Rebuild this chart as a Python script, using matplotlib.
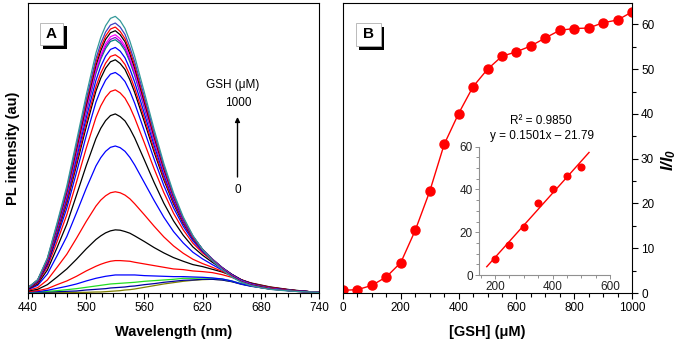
import matplotlib
matplotlib.use("Agg")
import matplotlib.pyplot as plt
from matplotlib.patches import Rectangle
from matplotlib.ticker import MultipleLocator

plt.rcParams['font.family'] = ['Liberation Sans', 'DejaVu Sans']
plt.rcParams['mathtext.fontset'] = 'custom'
plt.rcParams['mathtext.it'] = 'Liberation Sans:italic:bold'
plt.rcParams['mathtext.rm'] = 'Liberation Sans:italic:bold'

# ---------------- Panel A data: PL spectra (one per GSH concentration) ----------------
wavelength = [440, 450, 460, 470, 480, 490, 500, 510, 515, 520, 525, 530, 535, 540, 545, 550,
              560, 570, 580, 590, 600, 610, 620, 630, 640, 650, 660, 670, 680, 690, 700,
              710, 720, 730, 740]

spec_0 = [1, 1, 1, 1, 1, 2, 2, 3, 3, 4, 5, 6, 7, 9, 10, 12,
          17, 22, 27, 31, 35, 38, 40, 41, 39, 34, 27, 21, 16, 12, 10, 7, 5, 3, 1]
spec_50 = [2, 2, 3, 4, 5, 6, 9, 11, 12, 13, 15, 16, 17, 18, 20, 21,
           25, 28, 32, 35, 38, 39, 41, 41, 39, 34, 26, 20, 16, 12, 10, 7, 5, 3, 1]
spec_100 = [2, 3, 5, 7, 10, 13, 17, 21, 23, 25, 27, 28, 29, 30, 31, 32,
            35, 37, 39, 41, 44, 44, 45, 44, 42, 36, 28, 22, 17, 13, 10, 7, 5, 3, 1]
spec_150 = [3, 4, 8, 14, 20, 27, 36, 44, 47, 50, 52, 54, 54, 54, 54, 54,
            52, 51, 50, 49, 49, 48, 47, 45, 42, 36, 27, 21, 17, 13, 10, 7, 5, 3, 1]
spec_200 = [4, 7, 13, 25, 36, 50, 66, 80, 86, 91, 95, 97, 97, 96, 95, 92,
            87, 82, 77, 72, 70, 66, 64, 61, 55, 47, 36, 28, 22, 17, 13, 9, 6, 4, 1]
spec_250 = [6, 11, 25, 48, 72, 101, 132, 160, 171, 180, 186, 189, 188, 184, 179, 171,
            154, 136, 120, 106, 95, 85, 79, 71, 63, 52, 39, 30, 24, 18, 14, 10, 7, 4, 2]
spec_300 = [8, 16, 39, 77, 116, 164, 214, 260, 278, 291, 300, 303, 300, 293, 282, 267,
            234, 200, 168, 141, 119, 101, 88, 77, 65, 52, 38, 29, 23, 17, 13, 9, 6, 4, 2]
spec_350 = [10, 23, 57, 112, 169, 240, 313, 380, 405, 424, 436, 440, 435, 424, 406, 383,
            330, 277, 227, 184, 150, 122, 102, 85, 69, 53, 38, 28, 22, 16, 12, 9, 6, 4, 2]
spec_400 = [12, 27, 69, 136, 206, 293, 381, 462, 493, 516, 531, 536, 528, 515, 492, 464,
            398, 331, 269, 216, 173, 138, 113, 92, 73, 55, 39, 29, 22, 16, 12, 9, 6, 4, 2]
spec_450 = [13, 30, 78, 154, 234, 332, 433, 525, 560, 586, 603, 608, 599, 583, 557, 524,
            449, 372, 301, 239, 189, 149, 120, 97, 75, 56, 40, 29, 22, 16, 12, 9, 6, 4, 2]
spec_500 = [14, 33, 84, 167, 254, 361, 470, 571, 608, 637, 655, 660, 650, 633, 604, 568,
            485, 401, 322, 255, 200, 156, 124, 99, 75, 56, 39, 28, 21, 15, 11, 8, 6, 4, 2]
spec_550 = [14, 34, 89, 177, 269, 382, 497, 604, 643, 673, 692, 698, 687, 669, 638, 600,
            512, 422, 339, 267, 208, 162, 128, 101, 77, 56, 39, 28, 21, 15, 11, 8, 6, 4, 2]
spec_600 = [15, 35, 91, 181, 275, 391, 509, 617, 658, 688, 708, 713, 703, 684, 652, 613,
            523, 430, 345, 271, 211, 164, 128, 101, 76, 55, 38, 27, 21, 15, 11, 8, 5, 4, 2]
spec_650 = [15, 36, 94, 186, 284, 403, 524, 636, 678, 709, 729, 735, 724, 704, 671, 631,
            537, 442, 354, 277, 215, 166, 130, 101, 76, 55, 38, 27, 20, 14, 11, 8, 5, 4, 2]
spec_700 = [15, 37, 97, 192, 293, 416, 541, 657, 700, 732, 753, 758, 747, 726, 692, 651,
            554, 455, 363, 284, 220, 169, 131, 102, 76, 54, 37, 26, 20, 14, 10, 8, 5, 4, 2]
spec_750 = [15, 37, 97, 194, 295, 420, 546, 663, 706, 739, 759, 765, 753, 733, 698, 656,
            558, 458, 365, 285, 220, 169, 130, 101, 75, 53, 36, 26, 19, 13, 10, 7, 5, 4, 2]
spec_800 = [15, 38, 98, 196, 298, 424, 552, 669, 713, 746, 767, 773, 761, 740, 705, 662,
            563, 461, 367, 286, 220, 168, 129, 100, 73, 52, 35, 25, 18, 13, 9, 7, 5, 3, 2]
spec_850 = [16, 38, 100, 199, 303, 431, 561, 681, 725, 759, 779, 785, 773, 752, 716, 673,
            571, 468, 372, 289, 222, 169, 129, 99, 72, 51, 34, 24, 18, 12, 9, 7, 5, 3, 2]
spec_900 = [16, 39, 101, 202, 307, 437, 569, 690, 735, 769, 790, 796, 783, 761, 725, 681,
            578, 473, 376, 291, 223, 169, 129, 98, 71, 50, 33, 23, 17, 12, 9, 7, 4, 3, 2]
spec_950 = [15, 39, 103, 205, 312, 445, 578, 701, 747, 781, 802, 808, 796, 774, 736, 692,
            587, 480, 381, 294, 224, 170, 129, 97, 71, 49, 33, 23, 16, 11, 9, 6, 4, 3, 2]
spec_1000 = [16, 40, 105, 210, 320, 455, 592, 718, 765, 800, 822, 828, 815, 792, 754, 708,
             600, 490, 388, 300, 228, 172, 130, 98, 70, 48, 32, 22, 16, 11, 8, 6, 4, 3, 2]

spectra = [spec_0, spec_50, spec_100, spec_150, spec_200, spec_250, spec_300, spec_350,
           spec_400, spec_450, spec_500, spec_550, spec_600, spec_650, spec_700, spec_750,
           spec_800, spec_850, spec_900, spec_950, spec_1000]
spec_colors = ['#808000', '#0000A0', '#22DD22', '#0000FF', '#FF0000', '#000000', '#FF0000',
               '#0000FF', '#000000', '#FF0000', '#0000FF', '#000000', '#FF0000', '#0000FF',
               '#008080', '#9400D3', '#FF00FF', '#000000', '#FF0000', '#4040C0', '#339999']

# ---------------- Panel B data ----------------
gsh = [0, 50, 100, 150, 200, 250, 300, 350, 400, 450, 500, 550, 600, 650, 700, 750, 800,
       850, 900, 950, 1000]
ratio = [0.6, 0.75, 1.7, 3.6, 6.8, 14.0, 22.7, 33.2, 40.1, 46.1, 50.0, 52.9, 53.9, 55.2,
         57.0, 58.7, 59.1, 59.2, 60.4, 61.0, 62.8]
inset_gsh = [200, 250, 300, 350, 400, 450, 500]
inset_ratio = [7.3, 14.0, 22.6, 33.5, 40.2, 46.3, 50.3]
fit_x = [171, 527]
fit_y = [3.88, 57.31]

W, H = 685, 345
fig = plt.figure(figsize=(W / 100, H / 100), dpi=100)

def fx(px):
    return px / W

def fy(py):
    return 1 - py / H

TICK_FS = 8.5
LABEL_FS = 10.5

# ---------------- Panel A ----------------
axA = fig.add_axes([fx(28), fy(293), fx(291), 290 / H])
for s, c in zip(spectra, spec_colors):
    axA.plot(wavelength, s, color=c, lw=0.9)
axA.set_xlim(440, 740)
axA.set_ylim(0, 868)
axA.set_xticks([440, 500, 560, 620, 680, 740])
axA.xaxis.set_minor_locator(MultipleLocator(12))
axA.set_yticks([])
axA.tick_params(axis='x', which='major', direction='out', length=4, width=0.8,
                labelsize=TICK_FS, pad=2.5)
axA.tick_params(axis='x', which='minor', direction='out', length=3, width=0.8)
axA.set_xlabel('Wavelength (nm)', fontsize=LABEL_FS, fontweight='bold', labelpad=8)
axA.set_ylabel('PL intensity (au)', fontsize=LABEL_FS, fontweight='bold', labelpad=6)
fig.text(fx(233), fy(85), 'GSH (μM)', fontsize=TICK_FS, ha='center', va='center')
fig.text(fx(238), fy(102.5), '1000', fontsize=TICK_FS, ha='center', va='center')
fig.text(fx(237.5), fy(190), '0', fontsize=TICK_FS, ha='center', va='center')
axA.annotate('', xy=(fx(237.5), fy(117)), xycoords='figure fraction',
             xytext=(fx(237.5), fy(177)), textcoords='figure fraction',
             arrowprops=dict(arrowstyle='-|>', color='black', lw=1.0,
                             mutation_scale=7, shrinkA=0, shrinkB=0))

# ---------------- Panel B ----------------
axB = fig.add_axes([fx(343), fy(293), fx(289), 290 / H])
axB.plot(gsh, ratio, '-', color='red', lw=1.0)
axB.plot(gsh, ratio, 'o', color='red', ms=6.5, mec='red')
axB.set_xlim(0, 1000)
axB.set_ylim(0, 64.8)
axB.set_xticks([0, 200, 400, 600, 800, 1000])
axB.xaxis.set_minor_locator(MultipleLocator(50))
axB.yaxis.tick_right()
axB.yaxis.set_label_position('right')
axB.set_yticks([0, 10, 20, 30, 40, 50, 60])
axB.yaxis.set_minor_locator(MultipleLocator(5))
axB.tick_params(which='major', direction='out', length=4, width=0.8, labelsize=TICK_FS, pad=2.5)
axB.tick_params(which='minor', direction='out', length=3, width=0.8)
axB.set_xlabel('[GSH] (μM)', fontsize=LABEL_FS, fontweight='bold', labelpad=8)
axB.set_ylabel(r'$I/I_0$', fontsize=12, rotation=90)
axB.yaxis.set_label_coords(1.095, 0.46)

# inset
axI = fig.add_axes([fx(479), fy(275), fx(131), 128.3 / H])
axI.plot(fit_x, fit_y, '-', color='red', lw=1.0)
axI.plot(inset_gsh, inset_ratio, 'o', color='red', ms=4.8)
axI.set_xlim(144, 600)
axI.set_ylim(0, 60)
axI.set_xticks([200, 400, 600])
axI.xaxis.set_minor_locator(MultipleLocator(50))
axI.set_yticks([0, 20, 40, 60])
axI.yaxis.set_minor_locator(MultipleLocator(5))
for sp in ['top', 'right']:
    axI.spines[sp].set_visible(False)
for sp in ['left', 'bottom']:
    axI.spines[sp].set_color('#909090')
    axI.spines[sp].set_linewidth(0.8)
axI.patch.set_alpha(0)
axI.tick_params(which='major', direction='out', length=3, width=0.7, color='#909090',
                labelsize=TICK_FS, pad=1.5, labelcolor='#222222')
axI.tick_params(which='minor', direction='out', length=2, width=0.7, color='#909090')
fig.text(fx(541), fy(121.5), 'R² = 0.9850', fontsize=TICK_FS, ha='center', va='center')
fig.text(fx(542), fy(136.5), 'y = 0.1501x – 21.79', fontsize=TICK_FS, ha='center', va='center')

# panel label boxes
def label_box(x0, y0, w, h, letter):
    fig.add_artist(Rectangle((fx(x0 + 3.5), fy(y0 + h + 3.5)), fx(w), h / H,
                             transform=fig.transFigure, facecolor='black', edgecolor='none'))
    fig.add_artist(Rectangle((fx(x0), fy(y0 + h)), fx(w), h / H,
                             transform=fig.transFigure, facecolor='white',
                             edgecolor='#b0b0b0', lw=0.6))
    fig.text(fx(x0 + w / 2), fy(y0 + h / 2), letter, fontsize=11, fontweight='bold',
             ha='center', va='center')

label_box(40, 23, 23, 22, 'A')
label_box(356, 23, 25, 23, 'B')

fig.savefig('out.png', dpi=100)
